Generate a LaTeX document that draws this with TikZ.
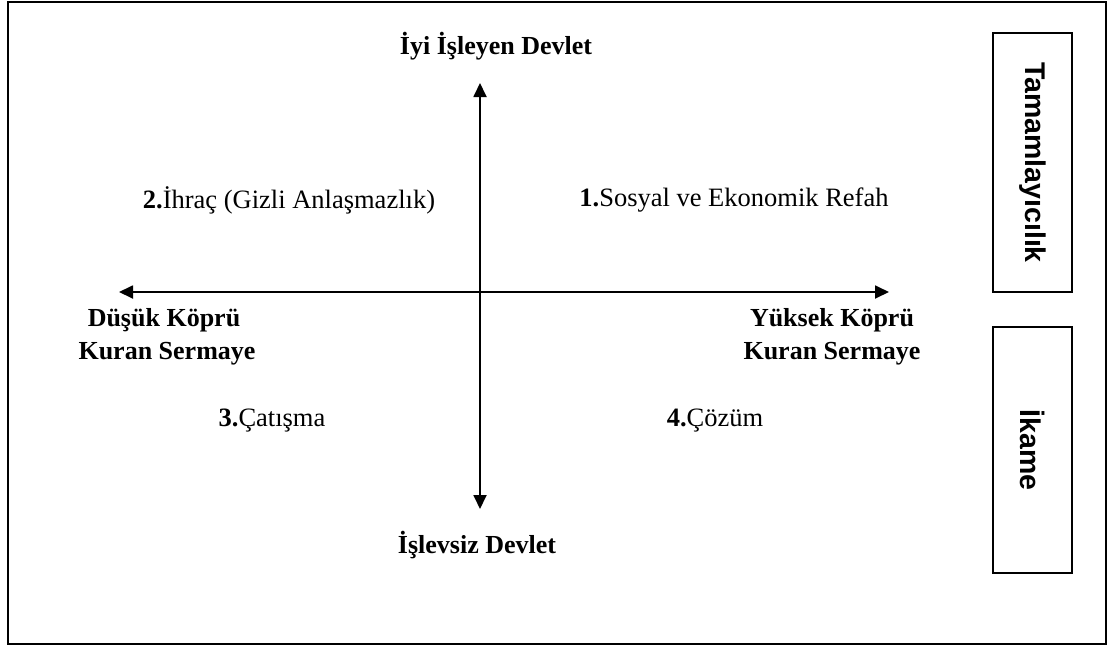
\documentclass[tikz,border=0pt]{standalone}
\usepackage{fontspec}
\setmainfont{Liberation Serif}
\newfontfamily\arialfont{Liberation Sans}
\usetikzlibrary{arrows.meta}
\begin{document}
\begin{tikzpicture}[x=1pt,y=-1pt,
  axis/.style={line width=1.8pt,-{Triangle[length=14pt,width=13pt]}},
  poleb/.style={font=\fontsize{26}{30}\selectfont\bfseries,align=center,inner sep=0pt},
  quad/.style={font=\fontsize{26.5}{30}\selectfont,inner sep=0pt},
  sidebox/.style={draw,line width=1.2pt,minimum width=79pt,inner sep=0pt},
  sidelabel/.style={font=\arialfont\fontsize{28.5}{32}\selectfont\bfseries,rotate=-90}]
\useasboundingbox (0,0) rectangle (1109,646);
% outer frame
\draw[line width=1.6pt] (8,2) rectangle (1106,644);
% axes
\coordinate (c) at (480,292);
\coordinate (top) at (480,83);
\coordinate (bot) at (480,509);
\coordinate (lft) at (119,292);
\coordinate (rgt) at (889,292);
\draw[axis] (c |- 0,505) -- (top);
\draw[axis] (c |- 0,100) -- (bot);
\draw[axis] (880,292) -- (lft);
\draw[axis] (125,292) -- (rgt);
% poles
\node[poleb] (good) at (496,46) {İyi İşleyen Devlet};
\node[poleb] (bad) at (477,545) {İşlevsiz Devlet};
\node[poleb] (low1) at (164,320) {Düşük Köprü};
\node[poleb] (low2) at (167,354) {Kuran Sermaye};
\node[poleb] (high1) at (832,320) {Yüksek Köprü};
\node[poleb] (high2) at (832,354) {Kuran Sermaye};
% quadrants
\node[quad] (q2) at (289,200) {\textbf{2.}İhraç (Gizli Anlaşmazlık)};
\node[quad] (q1) at (734,200) {\textbf{1.}Sosyal ve Ekonomik Refah};
\node[quad] (q3) at (272,421) {\textbf{3.}Çatışma};
\node[quad] (q4) at (715,421) {\textbf{4.}Çözüm};
% side boxes
\node[sidebox,minimum height=259pt] (comp) at (1032.5,162.5) {};
\node[sidelabel] at (comp.center) {Tamamlayıcılık};
\node[sidebox,minimum height=246pt] (subs) at (1032.5,450) {};
\node[sidelabel] at (subs.center) {İkame};
\end{tikzpicture}
\end{document}
